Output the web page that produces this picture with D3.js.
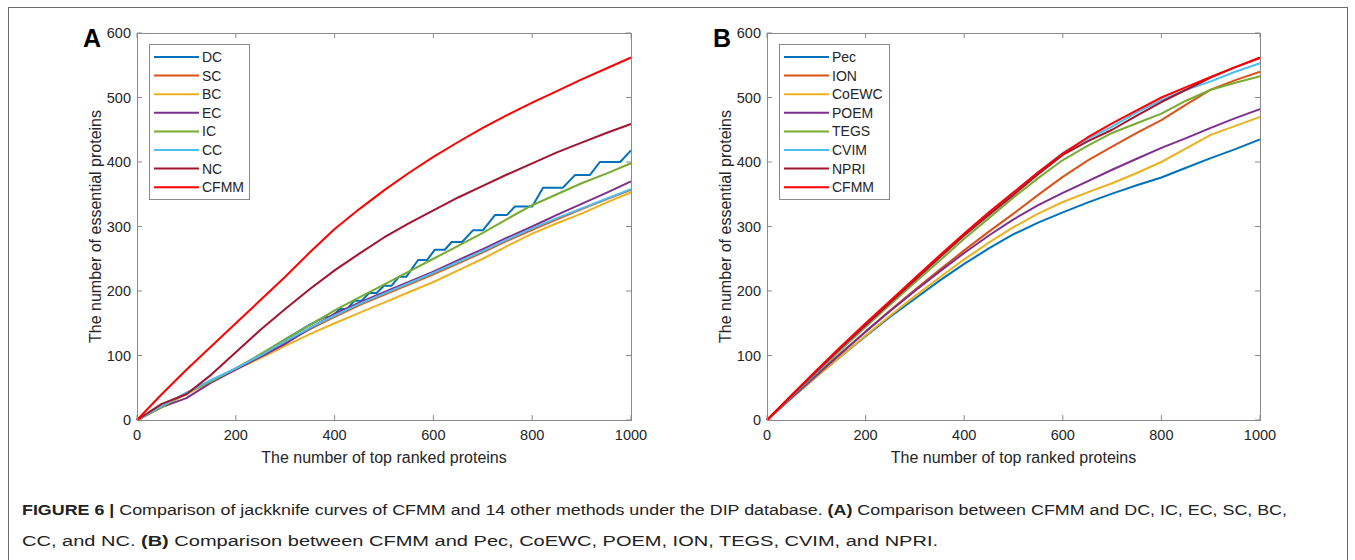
<!DOCTYPE html>
<html>
<head>
<meta charset="utf-8">
<script src="https://cdn.jsdelivr.net/npm/d3@7"></script>
<style>
  body { margin: 0; background: #fff; }
  svg { display: block; }
  text { font-family: "Liberation Sans", Arial, sans-serif; }
</style>
</head>
<body>
<svg id="fig" width="1355" height="560"></svg>
<script>
// shared x positions (number of top ranked proteins)
const xs = [0, 50, 100, 150, 200, 250, 300, 350, 400, 450, 500, 550, 600, 650, 700, 750, 800, 850, 900, 950, 1000];
const xTicks = [0, 200, 400, 600, 800, 1000];
const yTicks = [0, 100, 200, 300, 400, 500, 600];

// panel A
const namesA = ["DC", "SC", "BC", "EC", "IC", "CC", "NC", "CFMM"];
const dcX = [0, 50, 100, 150, 200, 250, 300, 350, 380, 395, 410, 425, 440, 455, 470, 485, 500, 515, 530, 545, 569, 587, 603, 623, 637, 658, 680, 700, 725, 749, 765, 800, 822, 862, 887, 917, 937, 978, 1000];
const dcY = [0, 21, 42, 61, 80, 101, 125, 148, 160, 160, 172, 172, 185, 185, 197, 197, 208, 208, 222, 222, 248, 248, 264, 264, 276, 276, 294, 294, 318, 318, 331, 331, 360, 360, 380, 380, 400, 400, 418];
const scA   = [0, 21, 41, 61, 79, 99, 120, 141, 160, 178, 194, 210, 226, 243, 260, 278, 295, 311, 327, 342, 357];
const bcA   = [0, 20, 40, 60, 78, 96, 115, 133, 150, 166, 182, 198, 214, 232, 250, 270, 289, 305, 320, 337, 353];
const ecA   = [0, 20, 34, 58, 78, 98, 118, 142, 165, 182, 198, 214, 230, 248, 265, 283, 300, 318, 335, 352, 370];
const icA   = [0, 20, 42, 60, 80, 102, 125, 147, 170, 190, 210, 230, 250, 270, 290, 312, 333, 350, 367, 382, 398];
const ccA   = [0, 22, 42, 62, 80, 100, 122, 143, 162, 180, 196, 212, 228, 245, 262, 280, 297, 313, 328, 343, 358];
const ncA   = [0, 25, 40, 70, 105, 140, 172, 203, 232, 258, 283, 305, 325, 345, 363, 381, 398, 415, 430, 445, 459];
const cfmmA = [0, 40, 78, 114, 150, 186, 222, 260, 296, 327, 356, 383, 408, 431, 453, 473, 492, 510, 528, 545, 562];

// panel B
const namesB = ["Pec", "ION", "CoEWC", "POEM", "TEGS", "CVIM", "NPRI", "CFMM"];
const pecB   = [0, 34, 67, 99, 130, 160, 188, 216, 242, 266, 288, 306, 322, 337, 351, 364, 376, 391, 406, 420, 435];
const ionB   = [0, 35, 70, 104, 137, 170, 202, 233, 263, 292, 320, 349, 377, 402, 424, 445, 465, 489, 512, 527, 540];
const coewcB = [0, 34, 67, 99, 131, 162, 192, 221, 249, 275, 299, 320, 338, 353, 367, 383, 400, 421, 442, 456, 470];
const poemB  = [0, 35, 69, 103, 137, 169, 200, 230, 259, 286, 311, 333, 352, 370, 388, 405, 422, 437, 453, 468, 482];
const tegsB  = [0, 37, 73, 109, 144, 179, 213, 247, 281, 313, 345, 375, 403, 425, 445, 460, 475, 495, 512, 523, 533];
const cvimB  = [0, 37, 74, 111, 146, 182, 217, 252, 287, 320, 352, 384, 414, 436, 455, 477, 496, 512, 525, 540, 553];
const npriB  = [0, 38, 75, 112, 147, 182, 217, 252, 286, 318, 349, 381, 411, 432, 450, 472, 493, 512, 531, 547, 561];
const cfmmB  = [0, 39, 77, 114, 150, 185, 220, 255, 289, 322, 353, 384, 413, 438, 460, 480, 500, 516, 532, 547, 562];

const colors = ["#0072BD", "#D95319", "#EDB120", "#7E2F8E", "#77AC30", "#4DBEEE", "#A2142F", "#FF0000"];

const seriesA = [
  { x: dcX, y: dcY }, { x: xs, y: scA }, { x: xs, y: bcA }, { x: xs, y: ecA },
  { x: xs, y: icA }, { x: xs, y: ccA }, { x: xs, y: ncA }, { x: xs, y: cfmmA }
];
const seriesB = [pecB, ionB, coewcB, poemB, tegsB, cvimB, npriB, cfmmB].map(v => ({ x: xs, y: v }));

const svg = d3.select("#fig");
const frameColor = "#8a8a8a", textColor = "#262626";

// outer figure border
svg.append("rect")
  .attr("x", 8.5).attr("y", 7.5)
  .attr("width", 1339).attr("height", 600)
  .attr("fill", "none").attr("stroke", "#6b6b6b").attr("stroke-width", 1);

function drawPanel(left, right, letter, names, series) {
  const top = 33, bottom = 420;
  const x = d3.scaleLinear().domain([0, 1000]).range([left, right]);
  const y = d3.scaleLinear().domain([0, 600]).range([bottom, top]);
  const g = svg.append("g");

  // ticks (inside, all four sides)
  const tl = 5;
  g.selectAll(".xt").data(xTicks).join("g").each(function(d) {
    const s = d3.select(this);
    s.append("line").attr("x1", x(d)).attr("x2", x(d)).attr("y1", bottom).attr("y2", bottom - tl)
      .attr("stroke", frameColor);
    s.append("line").attr("x1", x(d)).attr("x2", x(d)).attr("y1", top).attr("y2", top + tl)
      .attr("stroke", frameColor);
    s.append("text").attr("x", x(d)).attr("y", bottom + 20)
      .attr("text-anchor", "middle").attr("font-size", 14.5).attr("fill", textColor).text(d);
  });
  g.selectAll(".yt").data(yTicks).join("g").each(function(d) {
    const s = d3.select(this);
    s.append("line").attr("x1", left).attr("x2", left + tl).attr("y1", y(d)).attr("y2", y(d))
      .attr("stroke", frameColor);
    s.append("line").attr("x1", right).attr("x2", right - tl).attr("y1", y(d)).attr("y2", y(d))
      .attr("stroke", frameColor);
    s.append("text").attr("x", left - 6).attr("y", y(d) + 5)
      .attr("text-anchor", "end").attr("font-size", 14.5).attr("fill", textColor).text(d);
  });

  // curves
  const line = d3.line().x(d => x(d[0])).y(d => y(d[1]));
  series.forEach((s, i) => {
    const pts = s.x.map((v, k) => [v, s.y[k]]);
    g.append("path").datum(pts)
      .attr("d", line)
      .attr("fill", "none")
      .attr("stroke", colors[i])
      .attr("stroke-width", 2)
      .attr("stroke-linejoin", "round");
  });

  // frame
  g.append("rect")
    .attr("x", left + 0.5).attr("y", top + 0.5)
    .attr("width", right - left).attr("height", bottom - top)
    .attr("fill", "none").attr("stroke", frameColor);

  // axis labels
  g.append("text")
    .attr("x", (left + right) / 2).attr("y", 463)
    .attr("text-anchor", "middle").attr("font-size", 16).attr("fill", textColor)
    .text("The number of top ranked proteins");
  g.append("text")
    .attr("transform", `translate(${left - 36},${(top + bottom) / 2}) rotate(-90)`)
    .attr("text-anchor", "middle").attr("font-size", 16).attr("fill", textColor)
    .text("The number of essential proteins");

  // panel letter
  g.append("text")
    .attr("x", left - 54).attr("y", 47)
    .attr("font-size", 25).attr("font-weight", "bold").attr("fill", "#000")
    .text(letter);

  // legend
  const lx = left + 12, ly = 44, lw = letter === "A" ? 100 : 110, rowH = 18.6;
  const leg = g.append("g");
  leg.append("rect")
    .attr("x", lx + 0.5).attr("y", ly + 0.5)
    .attr("width", lw).attr("height", 155)
    .attr("fill", "#fff").attr("stroke", frameColor);
  names.forEach((n, i) => {
    const yy = ly + 13 + i * rowH;
    leg.append("line")
      .attr("x1", lx + 5).attr("x2", lx + 50).attr("y1", yy).attr("y2", yy)
      .attr("stroke", colors[i]).attr("stroke-width", 2);
    leg.append("text")
      .attr("x", lx + 53).attr("y", yy + 5)
      .attr("font-size", 14).attr("fill", textColor).text(n);
  });
}

drawPanel(137, 631, "A", namesA, seriesA);
drawPanel(767, 1260, "B", namesB, seriesB);

// caption
const cap1 = svg.append("text").attr("x", 22).attr("y", 515).attr("font-size", 15.5).attr("fill", "#222")
  .attr("textLength", 1265).attr("lengthAdjust", "spacingAndGlyphs");
cap1.append("tspan").attr("font-weight", "bold").text("FIGURE 6 | ");
cap1.append("tspan").text("Comparison of jackknife curves of CFMM and 14 other methods under the DIP database. ");
cap1.append("tspan").attr("font-weight", "bold").text("(A)");
cap1.append("tspan").text(" Comparison between CFMM and DC, IC, EC, SC, BC,");

const cap2 = svg.append("text").attr("x", 22).attr("y", 546).attr("font-size", 15.5).attr("fill", "#222")
  .attr("textLength", 916).attr("lengthAdjust", "spacingAndGlyphs");
cap2.append("tspan").text("CC, and NC. ");
cap2.append("tspan").attr("font-weight", "bold").text("(B)");
cap2.append("tspan").text(" Comparison between CFMM and Pec, CoEWC, POEM, ION, TEGS, CVIM, and NPRI.");
</script>
</body>
</html>
